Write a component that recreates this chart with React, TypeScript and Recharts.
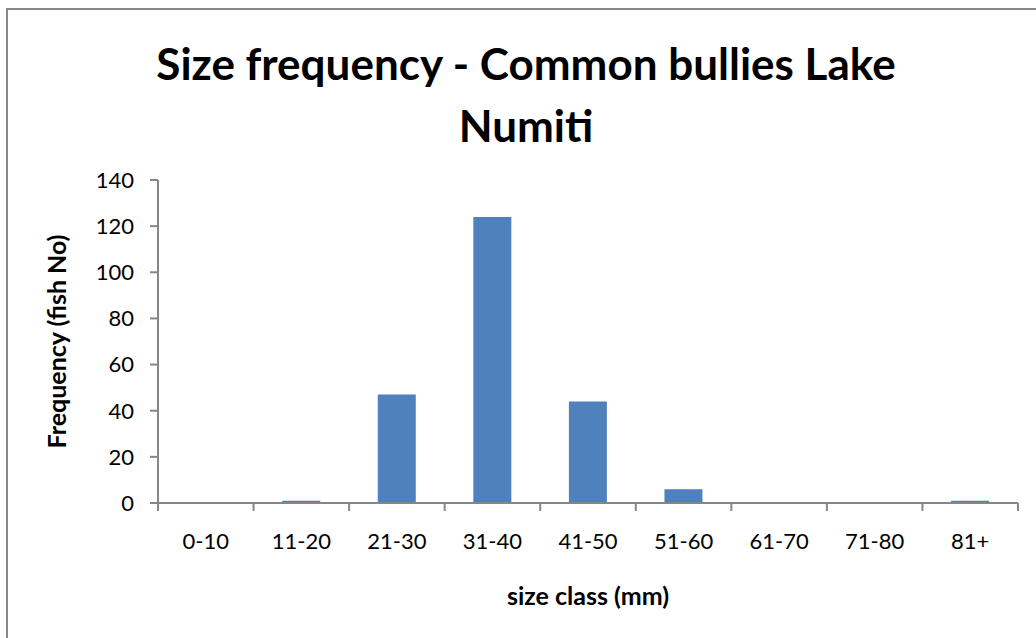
import React from "react";
import { BarChart, Bar, XAxis, YAxis, Label } from "recharts";

const categories = ["0-10", "11-20", "21-30", "31-40", "41-50", "51-60", "61-70", "71-80", "81+"];
const frequencies = [0, 1, 47, 124, 44, 6, 0, 0, 1];
const yTicks = [0, 20, 40, 60, 80, 100, 120, 140];

const titleLines = ["Size frequency - Common bullies Lake", "Numiti"];
const xTitle = "size class (mm)";
const yTitle = "Frequency (fish No)";

const data = categories.map((c, i) => ({ name: c, value: frequencies[i] }));

const FONT = "Lato, 'Open Sans', sans-serif";
const AXIS = "#868686";
const TICK_SIZE = 8;
const TICK_MARGIN = 22;

function CategoryTick(props: any) {
  const { x, y, payload, index, width } = props;
  const step = width / categories.length;
  const axisY = y - TICK_SIZE - TICK_MARGIN;
  const left = x - step / 2;
  const right = x + step / 2;
  const isLast = index === categories.length - 1;
  return (
    <g>
      <line x1={left} x2={left} y1={axisY} y2={axisY + TICK_SIZE} stroke={AXIS} strokeWidth={2} />
      {isLast && <line x1={right} x2={right} y1={axisY} y2={axisY + TICK_SIZE} stroke={AXIS} strokeWidth={2} />}
      <text
        x={x}
        y={y}
        dy="0.71em"
        textAnchor="middle"
        style={{ fill: "#000", fontSize: 22, fontFamily: FONT }}
      >
        {payload.value}
      </text>
    </g>
  );
}

export default function App() {
  return (
    <div
      style={{
        position: "absolute",
        left: 0,
        top: 0,
        width: 1036,
        height: 638,
        overflow: "hidden",
        background: "#fff",
        fontFamily: FONT,
      }}
    >
      <div
        style={{
          position: "absolute",
          left: 6,
          top: 8,
          width: 1100,
          height: 700,
          borderLeft: "2px solid #888",
          borderTop: "2px solid #888",
        }}
      />
      <div
        style={{
          position: "absolute",
          left: 0,
          top: 0,
          width: 1036,
          height: 638,
        }}
      >
        <BarChart
          width={1036}
          height={638}
          data={data}
          margin={{ top: 180, right: 18, bottom: 0, left: 0 }}
          barCategoryGap="30%"
        >
          <text
            x={526}
            y={80}
            textAnchor="middle"
            style={{ fontFamily: FONT, fontWeight: 700, fontSize: 44, fill: "#000" }}
          >
            {titleLines[0]}
          </text>
          <text
            x={526}
            y={142}
            textAnchor="middle"
            style={{ fontFamily: FONT, fontWeight: 700, fontSize: 44, fill: "#000" }}
          >
            {titleLines[1]}
          </text>
          <XAxis
            dataKey="name"
            stroke={AXIS}
            strokeWidth={2}
            axisLine={{ stroke: AXIS, strokeWidth: 2 }}
            tickLine={false}
            tickSize={TICK_SIZE}
            tickMargin={TICK_MARGIN}
            interval={0}
            tick={<CategoryTick />}
            height={135}
          >
            <Label
              value={xTitle}
              position="insideTop"
              offset={84}
              style={{ fontFamily: FONT, fontWeight: 700, fontSize: 25, fill: "#000" }}
            />
          </XAxis>
          <YAxis
            domain={[0, 140]}
            ticks={yTicks}
            interval={0}
            width={158}
            stroke={AXIS}
            strokeWidth={2}
            tickSize={8}
            tickMargin={16}
            tick={{ fill: "#000", fontSize: 22, fontFamily: FONT }}
            tickLine={{ stroke: AXIS, strokeWidth: 2 }}
          >
            <Label
              value={yTitle}
              angle={-90}
              position="insideLeft"
              offset={57}
              style={{ fontFamily: FONT, fontWeight: 700, fontSize: 25, fill: "#000", textAnchor: "middle" }}
            />
          </YAxis>
          <Bar dataKey="value" fill="#4F81BD" isAnimationActive={false} />
        </BarChart>
      </div>
    </div>
  );
}
